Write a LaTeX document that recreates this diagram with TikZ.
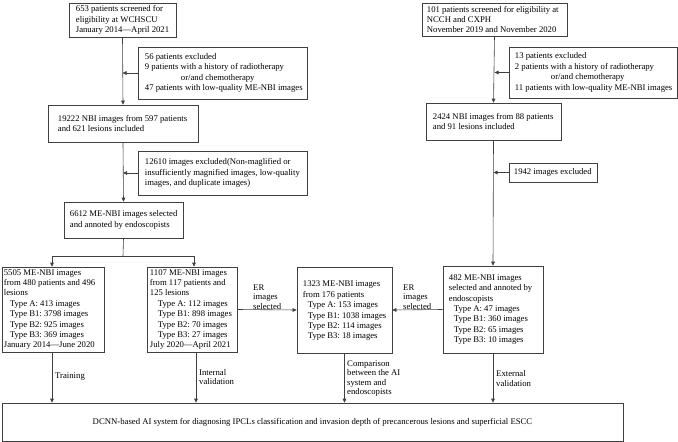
\documentclass[tikz,border=0pt]{standalone}
\usepackage{fontspec}
\setmainfont{Liberation Serif}
\usetikzlibrary{arrows.meta}
\newcommand{\tind}[1][6pt]{\hspace*{#1}}
\tikzset{
  bx/.style={draw=black!75, line width=0.6pt, inner sep=0pt},
  tx/.style={inner sep=0pt, align=left, anchor=west,
    font=\fontsize{8.7}{10.4}\selectfont\frenchspacing},
  lbl/.style={inner sep=0pt, align=left, anchor=west,
    font=\fontsize{8.7}{9.6}\selectfont},
  ln/.style={draw=black!75, line width=0.6pt},
  arr/.style={ln, -{Triangle[length=4pt,width=3.6pt]}},
}
\begin{document}
\begin{tikzpicture}[x=1pt,y=-1pt]
\useasboundingbox (0,0) rectangle (678,442);
% boxes
\node[bx, minimum width=107pt, minimum height=34pt] (b1) at (122.5,20) {};
\node[bx, minimum width=169pt, minimum height=52pt] (ex1) at (222.5,73) {};
\node[bx, minimum width=150pt, minimum height=37pt] (b2) at (123,123.5) {};
\node[bx, minimum width=169pt, minimum height=44pt] (ex2) at (222.5,173) {};
\node[bx, minimum width=119pt, minimum height=36pt] (b3) at (123.5,220) {};
\node[bx, minimum width=102pt, minimum height=85pt] (t1) at (53,309.5) {};
\node[bx, minimum width=90pt, minimum height=85pt] (v1) at (192,309.5) {};
\node[bx, minimum width=95pt, minimum height=86pt] (e1) at (344.5,310) {};
\node[bx, minimum width=145pt, minimum height=33pt] (r1) at (494.5,19.5) {};
\node[bx, minimum width=168pt, minimum height=51pt] (ex3) at (593,72.5) {};
\node[bx, minimum width=135pt, minimum height=37pt] (r2) at (493.5,121.5) {};
\node[bx, minimum width=88pt, minimum height=19pt] (ex4) at (553,172.5) {};
\node[bx, minimum width=100pt, minimum height=87pt] (r3) at (493,309.5) {};
\node[bx, minimum width=621pt, minimum height=38pt, font=\fontsize{8.7}{10.4}\selectfont] (fin) at (312.5,422)
  {DCNN-based AI system for diagnosing IPCLs classification and invasion depth of precancerous lesions and superficial ESCC};
% texts
\node[tx] (b1t) at ([xshift=7pt]b1.west)
  {653 patients screened for\\eligibility at WCHSCU\\January 2014—April 2021};
\node[tx] (ex1t) at ([xshift=7pt]ex1.west)
  {56 patients excluded\\9 patients with a history of radiotherapy\\\tind[36pt]or/and chemotherapy\\47 patients with low-quality ME-NBI images};
\node[tx] (b2t) at ([xshift=10pt]b2.west)
  {19222 NBI images from 597 patients\\and 621 lesions included};
\node[tx] (ex2t) at ([xshift=7pt]ex2.west)
  {12610 images excluded(Non-maglified or\\insufficiently magnified images, low-quality\\images, and duplicate images)};
\node[tx] (b3t) at ([xshift=6pt]b3.west)
  {6612 ME-NBI images selected\\and annoted by endoscopists};
\node[tx] (t1t) at ([xshift=2pt]t1.west)
  {5505 ME-NBI images\\from 480 patients and 496\\lesions\\\tind Type A: 413 images\\\tind Type B1: 3798 images\\\tind Type B2: 925 images\\\tind Type B3: 369 images\\January 2014—June 2020};
\node[tx] (v1t) at ([xshift=3pt]v1.west)
  {1107 ME-NBI images\\from 117 patients and\\125 lesions\\\tind[8pt]Type A: 112 images\\\tind[8pt]Type B1: 898 images\\\tind[8pt]Type B2: 70 images\\\tind[8pt]Type B3: 27 images\\July 2020—April 2021};
\node[tx] (e1t) at ([xshift=6pt,yshift=-1pt]e1.west)
  {1323 ME-NBI images\\from 176 patients\\\tind[5pt]Type A: 153 images\\\tind[5pt]Type B1: 1038 images\\\tind[5pt]Type B2: 114 images\\\tind[5pt]Type B3: 18 images};
\node[tx] (r1t) at ([xshift=5pt]r1.west)
  {101 patients screened for eligibility at\\NCCH and CXPH\\November 2019 and November 2020};
\node[tx] (ex3t) at ([xshift=6pt]ex3.west)
  {13 patients excluded\\2 patients with a history of radiotherapy\\\tind[36pt]or/and chemotherapy\\11 patients with low-quality ME-NBI images};
\node[tx] (r2t) at ([xshift=7pt]r2.west)
  {2424 NBI images from 88 patients\\and 91 lesions included};
\node[tx] (ex4t) at ([xshift=5pt]ex4.west)
  {1942 images excluded};
\node[tx] (r3t) at ([xshift=6pt]r3.west)
  {482 ME-NBI images\\selected and annoted by\\endoscopists\\\tind[5pt]Type A: 47 images\\\tind[5pt]Type B1: 360 images\\\tind[5pt]Type B2: 65 images\\\tind[5pt]Type B3: 10 images};
% connectors left
\draw[arr] (b1.south) -- (b2.north);
\draw[arr] (ex1.west) -- (ex1.west -| b1.south);
\draw[arr] (b2.south) -- (b3.north);
\draw[arr] (ex2.west) -- (ex2.west -| b2.south);
\coordinate (sp) at (123,256);
\draw[ln] (b3.south) -- (sp);
\draw[arr] (sp) -| ([xshift=-1pt]t1.north);
\draw[arr] (sp) -| ([xshift=2pt]v1.north);
\draw[arr] (v1.east) -- (e1.west);
\draw[arr] (r3.west) -- (e1.east);
% connectors right
\draw[arr] (r1.south) -- (r2.north);
\draw[arr] (ex3.west) -- (ex3.west -| r1.south);
\draw[arr] (r2.south) -- (r3.north);
\draw[arr] (ex4.west) -- (ex4.west -| r2.south);
% to final
\draw[arr] ([xshift=-1pt]t1.south) -- ([xshift=-1pt]t1.south |- fin.north);
\draw[arr] ([xshift=4pt]v1.south) -- ([xshift=4pt]v1.south |- fin.north);
\draw[arr] (e1.south) -- (e1.south |- fin.north);
\draw[arr] (r3.south) -- (r3.south |- fin.north);
% labels
\node[lbl] (l1) at (253,297) {ER\\images\\selected};
\node[lbl] (l2) at (403,297) {ER\\images\\selected};
\node[lbl] (l3) at (55,377) {Training};
\node[lbl] (l4) at (199,377) {Internal\\validation};
\node[lbl] (l5) at (347,378.5) {Comparison\\between the AI\\system and\\endoscopists};
\node[lbl] (l6) at (496,378.5) {External\\validation};
\end{tikzpicture}
\end{document}
